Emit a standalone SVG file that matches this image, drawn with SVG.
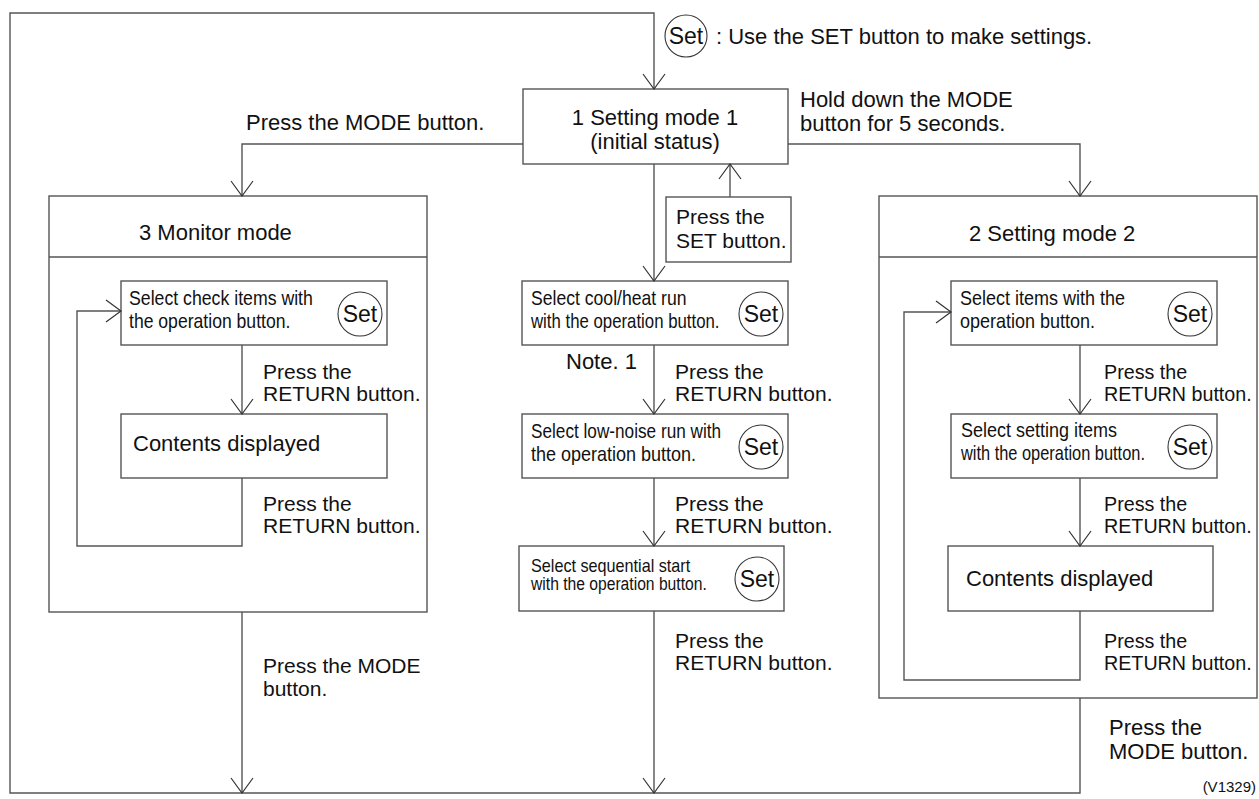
<svg xmlns="http://www.w3.org/2000/svg" width="1259" height="799" viewBox="0 0 1259 799">
<style>
.box{fill:#fff;stroke:#555;stroke-width:1.4}
.ln{fill:none;stroke:#555;stroke-width:1.4}
.set{fill:none;stroke:#333;stroke-width:1.1}
.t{font-family:"Liberation Sans",Arial,Helvetica,sans-serif;font-size:22px;fill:#111}
.r{font-family:"Liberation Sans",Arial,Helvetica,sans-serif;font-size:21px;fill:#111}
.rr{font-family:"Liberation Sans",Arial,Helvetica,sans-serif;font-size:19.7px;fill:#111}
.n{font-family:"Liberation Sans",Arial,Helvetica,sans-serif;font-size:20px;fill:#111}
.ns{font-family:"Liberation Sans",Arial,Helvetica,sans-serif;font-size:18px;fill:#111}
.s{font-family:"Liberation Sans",Arial,Helvetica,sans-serif;font-size:23px;fill:#111;text-anchor:middle}
.v{font-family:"Liberation Sans",Arial,Helvetica,sans-serif;font-size:15px;fill:#111}
</style>
<defs>
<marker id="arr" viewBox="-16 -12 17 24" refX="0" refY="0" markerWidth="17" markerHeight="24" markerUnits="userSpaceOnUse" orient="auto">
<path d="M-15,-11 L0,0 L-15,11" fill="none" stroke="#333" stroke-width="1.2"/>
</marker>
</defs>
<rect width="1259" height="799" fill="#fff"/>

<g id="monitor">
<rect class="box" x="49" y="196" width="378" height="416"/>
<line class="ln" x1="49" y1="257" x2="427" y2="257"/>
<text class="t" x="139" y="240">3 Monitor mode</text>
</g>

<g id="mode2">
<rect class="box" x="879" y="196" width="378" height="502"/>
<line class="ln" x1="879" y1="257" x2="1257" y2="257"/>
<text class="t" x="969" y="241">2 Setting mode 2</text>
</g>

<g id="legend">
<ellipse class="set" cx="686" cy="36" rx="21" ry="21"/>
<text class="s" x="686" y="44">Set</text>
<text class="t" x="716" y="44" font-size="23">: Use the SET button to make settings.</text>
</g>

<g id="mode1">
<rect class="box" x="523" y="89" width="265" height="75"/>
<text class="t" x="655" y="125" text-anchor="middle">1 Setting mode 1</text>
<text class="t" x="655" y="149" text-anchor="middle">(initial status)</text>
</g>

<g id="press-set">
<rect class="box" x="666" y="197" width="125" height="65"/>
<text class="r" x="676" y="224" font-size="20">Press the</text>
<text class="r" x="676" y="248" font-size="20">SET button.</text>
</g>

<g id="cool-heat">
<rect class="box" x="522" y="281" width="266" height="64"/>
<text class="n" transform="translate(531,305) scale(0.88,1)">Select cool/heat run</text>
<text class="n" transform="translate(531,328) scale(0.84,1)">with the operation button.</text>
<ellipse class="set" cx="761" cy="314" rx="22" ry="22"/>
<text class="s" x="761" y="322">Set</text>
</g>

<g id="low-noise">
<rect class="box" x="522" y="414" width="266" height="64"/>
<text class="n" transform="translate(531,438) scale(0.86,1)">Select low-noise run with</text>
<text class="n" transform="translate(531,461) scale(0.9,1)">the operation button.</text>
<ellipse class="set" cx="761" cy="447" rx="22" ry="22"/>
<text class="s" x="761" y="455">Set</text>
</g>

<g id="sequential">
<rect class="box" x="519" y="546" width="265" height="65"/>
<text class="ns" transform="translate(531,572) scale(0.9,1)">Select sequential start</text>
<text class="ns" transform="translate(531,590) scale(0.87,1)">with the operation button.</text>
<ellipse class="set" cx="757" cy="579" rx="22" ry="22"/>
<text class="s" x="757" y="587">Set</text>
</g>

<g id="check-items">
<rect class="box" x="121" y="281" width="266" height="64"/>
<text class="n" transform="translate(129,305) scale(0.885,1)">Select check items with</text>
<text class="n" transform="translate(129,328) scale(0.88,1)">the operation button.</text>
<ellipse class="set" cx="360" cy="314" rx="22" ry="22"/>
<text class="s" x="360" y="322">Set</text>
</g>

<g id="contents-monitor">
<rect class="box" x="121" y="414" width="266" height="64"/>
<text class="t" x="133" y="451">Contents displayed</text>
</g>

<g id="select-items">
<rect class="box" x="951" y="281" width="266" height="64"/>
<text class="n" transform="translate(960,305) scale(0.9,1)">Select items with the</text>
<text class="n" transform="translate(960,328) scale(0.9,1)">operation button.</text>
<ellipse class="set" cx="1190" cy="314" rx="22" ry="22"/>
<text class="s" x="1190" y="322">Set</text>
</g>

<g id="setting-items">
<rect class="box" x="951" y="414" width="266" height="64"/>
<text class="n" transform="translate(961,437) scale(0.9,1)">Select setting items</text>
<text class="n" transform="translate(961,460) scale(0.82,1)">with the operation button.</text>
<ellipse class="set" cx="1190" cy="447" rx="22" ry="22"/>
<text class="s" x="1190" y="455">Set</text>
</g>

<g id="contents-mode2">
<rect class="box" x="948" y="546" width="265" height="65"/>
<text class="t" x="966" y="586">Contents displayed</text>
</g>

<g id="labels">
<text class="t" x="246" y="130">Press the MODE button.</text>
<text class="t" x="800" y="107">Hold down the MODE</text>
<text class="t" x="800" y="131">button for 5 seconds.</text>
<text class="r" x="263" y="379">Press the</text>
<text class="r" x="263" y="401">RETURN button.</text>
<text class="r" x="263" y="511">Press the</text>
<text class="r" x="263" y="533">RETURN button.</text>
<text class="r" x="263" y="673">Press the MODE</text>
<text class="r" x="263" y="696">button.</text>
<text class="t" x="566" y="369">Note. 1</text>
<text class="r" x="675" y="379">Press the</text>
<text class="r" x="675" y="401">RETURN button.</text>
<text class="r" x="675" y="511">Press the</text>
<text class="r" x="675" y="533">RETURN button.</text>
<text class="r" x="675" y="648">Press the</text>
<text class="r" x="675" y="670">RETURN button.</text>
<text class="rr" x="1104" y="379">Press the</text>
<text class="rr" x="1104" y="401">RETURN button.</text>
<text class="rr" x="1104" y="511">Press the</text>
<text class="rr" x="1104" y="533">RETURN button.</text>
<text class="rr" x="1104" y="648">Press the</text>
<text class="rr" x="1104" y="670">RETURN button.</text>
<text class="t" x="1109" y="735">Press the</text>
<text class="t" x="1109" y="759">MODE button.</text>
<text class="v" x="1256" y="792" text-anchor="end">(V1329)</text>
</g>

<g id="connectors">
<path class="ln" d="M1080,698 V793 H10 V13 H654 V89" marker-end="url(#arr)"/>
<path class="ln" d="M523,144 H242 V196" marker-end="url(#arr)"/>
<path class="ln" d="M788,144 H1080 V196" marker-end="url(#arr)"/>
<path class="ln" d="M654,164 V281" marker-end="url(#arr)"/>
<path class="ln" d="M730,197 V164" marker-end="url(#arr)"/>
<path class="ln" d="M654,345 V414" marker-end="url(#arr)"/>
<path class="ln" d="M654,478 V546" marker-end="url(#arr)"/>
<path class="ln" d="M654,611 V793" marker-end="url(#arr)"/>
<path class="ln" d="M242,612 V793" marker-end="url(#arr)"/>
<path class="ln" d="M242,345 V414" marker-end="url(#arr)"/>
<path class="ln" d="M242,478 V546 H77 V311 H121" marker-end="url(#arr)"/>
<path class="ln" d="M1080,345 V414" marker-end="url(#arr)"/>
<path class="ln" d="M1080,478 V546" marker-end="url(#arr)"/>
<path class="ln" d="M1080,611 V680 H904 V312 H951" marker-end="url(#arr)"/>
</g>
</svg>
